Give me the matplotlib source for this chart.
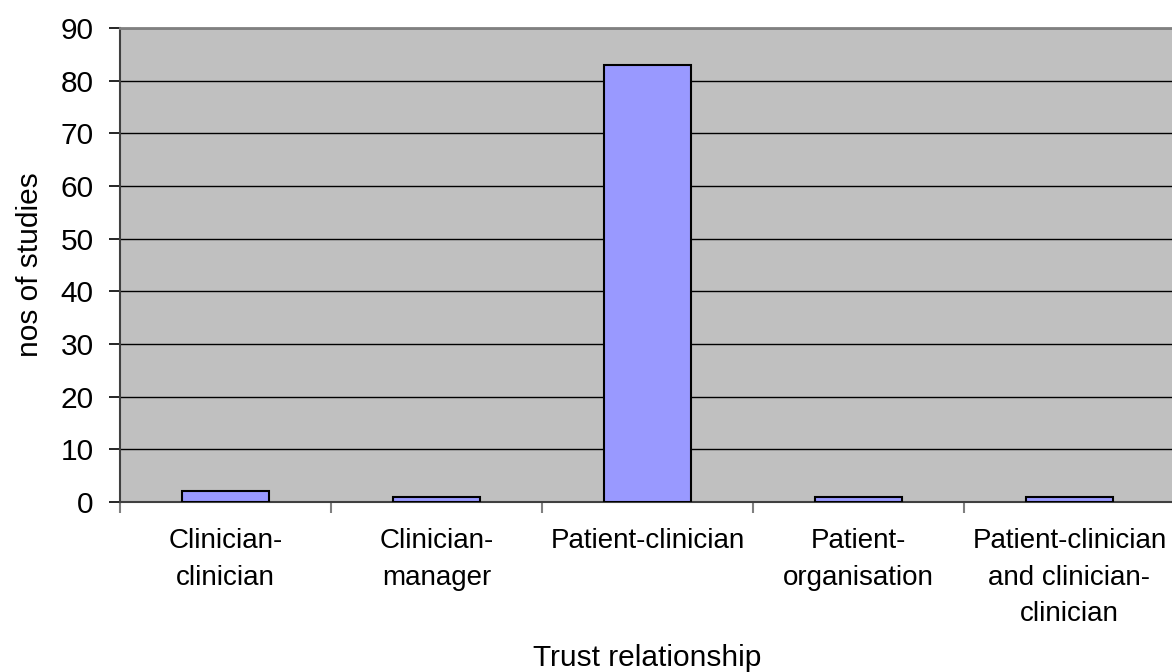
import matplotlib
matplotlib.use("Agg")
import matplotlib.pyplot as plt
import numpy as np

plt.rcParams['font.family'] = ['Liberation Sans', 'DejaVu Sans']

# Data
categories = ["Clinician-\nclinician", "Clinician-\nmanager", "Patient-clinician",
              "Patient-\norganisation", "Patient-clinician\nand clinician-\nclinician"]
studies = [2, 1, 83, 1, 1]

fig = plt.figure(figsize=(11.72, 6.72), dpi=100)
# plot area runs off the right edge like the original
ax = fig.add_axes([120 / 1172, 170 / 672, 1055 / 1172, 474 / 672])
ax.set_facecolor("#C0C0C0")

x = np.arange(len(categories))
ax.bar(x, studies, width=0.41, color="#9999FF", edgecolor="black", linewidth=1.5, zorder=3)

ax.set_xlim(-0.5, len(categories) - 0.5)
ax.set_ylim(0, 90)
ax.set_yticks(range(0, 91, 10))
ax.yaxis.grid(True, color="black", linewidth=1.0, zorder=1)
ax.set_axisbelow(True)

# category boundaries as major ticks, labels on minor ticks at bar centres
ax.set_xticks(np.arange(len(categories) + 1) - 0.5)
ax.set_xticklabels([])
ax.set_xticks(x, minor=True)
ax.set_xticklabels(categories, minor=True, fontsize=20, linespacing=1.52)
ax.tick_params(axis="x", which="minor", length=0, pad=19)
ax.tick_params(axis="x", which="major", length=8, color="#808080", width=1.5)
ax.tick_params(axis="y", length=8, width=1.2, pad=11, labelsize=21.5)

for side in ["left", "bottom"]:
    ax.spines[side].set_color("#404040")
    ax.spines[side].set_linewidth(1.5)
ax.spines["top"].set_color("#808080")
ax.spines["top"].set_linewidth(2)
ax.spines["right"].set_visible(False)

ax.set_xlabel("Trust relationship", fontsize=21.5, labelpad=12)
ax.set_ylabel("nos of studies", fontsize=21.5, labelpad=12)

fig.savefig("out.png", dpi=100)
